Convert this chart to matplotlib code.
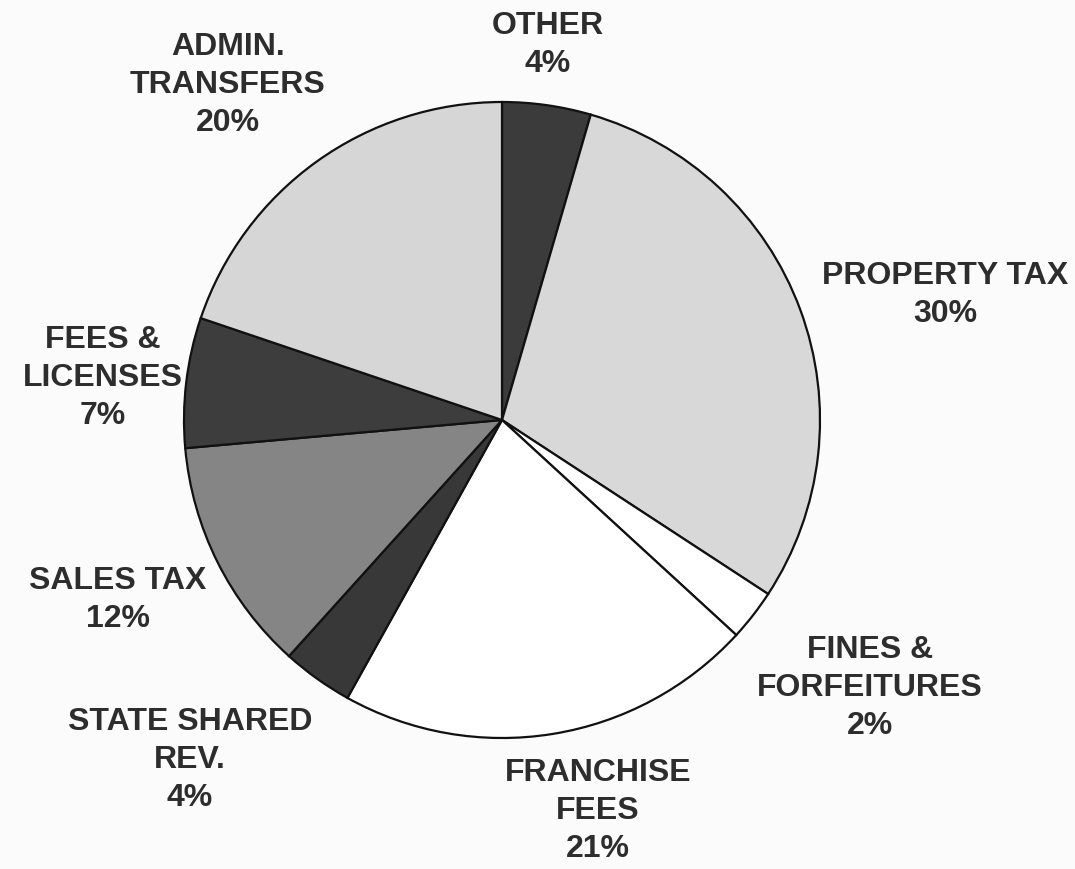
import matplotlib
matplotlib.use('Agg')
import matplotlib.pyplot as plt

# revenue shares (clockwise from the top)
categories = ['OTHER', 'PROPERTY TAX', 'FINES &\nFORFEITURES', 'FRANCHISE\nFEES',
              'STATE SHARED\nREV.', 'SALES TAX', 'FEES &\nLICENSES', 'ADMIN.\nTRANSFERS']
shares = [4.5, 29.7, 2.6, 21.25, 3.6, 11.9, 6.6, 19.8]
pct_labels = ['4%', '30%', '2%', '21%', '4%', '12%', '7%', '20%']

colors = ['#3b3b3b', '#d8d8d8', '#ffffff', '#ffffff',
          '#383838', '#858585', '#3d3d3d', '#d6d6d6']

# label centres in pie-radius units
label_pos = [(0.145, 1.18), (1.393, 0.393), (1.157, -0.843), (0.302, -1.230),
             (-0.981, -1.069), (-1.208, -0.566), (-1.255, 0.132), (-0.862, 1.053)]

fig = plt.figure(figsize=(10.75, 8.69), dpi=100)
fig.patch.set_facecolor('#fbfbfb')
ax = fig.add_axes([0, 0, 1, 1])
ax.set_facecolor('#fbfbfb')

ax.pie(shares, colors=colors, startangle=90, counterclock=False, radius=1.0,
       wedgeprops=dict(edgecolor='#111111', linewidth=1.6))

for cat, pct, (x, y) in zip(categories, pct_labels, label_pos):
    ax.text(x, y, cat + '\n' + pct, ha='center', va='center', fontsize=23,
            fontweight='bold', family='Liberation Sans', color='#2d2d2d',
            linespacing=1.36)

# centre at (502, 420) px, radius 318 px
ax.set_xlim(-502 / 318, (1075 - 502) / 318)
ax.set_ylim(-(869 - 420) / 318, 420 / 318)
ax.set_aspect('equal')
ax.axis('off')

fig.savefig('out.png', dpi=100, facecolor=fig.get_facecolor())
